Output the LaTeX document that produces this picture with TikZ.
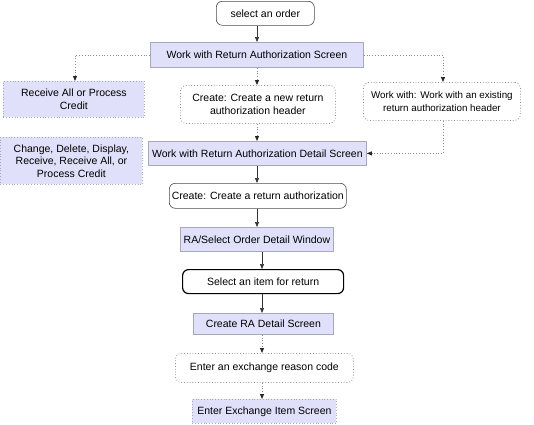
\documentclass[tikz,border=0pt]{standalone}
\usepackage{fontspec}
\setmainfont{Liberation Sans}
\usetikzlibrary{arrows.meta}
\definecolor{lav}{HTML}{E0E0FA}
\definecolor{lavborder}{HTML}{A8A8BC}
\definecolor{dotc}{HTML}{8C8C8C}
\begin{document}
\begin{tikzpicture}[x=1pt,y=-1pt,
  base/.style={font=\fontsize{10.5}{12.5}\selectfont, align=center, inner sep=0pt, anchor=north west},
  screen/.style={base, fill=lav, draw=lavborder, line width=0.8pt},
  screendot/.style={base, fill=lav, draw=lavborder, dotted, line width=0.8pt},
  stepsolid/.style={base, draw=black!70, rounded corners=6pt, line width=0.6pt},
  stepthick/.style={base, draw=black, rounded corners=6pt, line width=1.2pt},
  stepdot/.style={base, draw=dotc, dotted, rounded corners=6pt, line width=0.8pt},
  arr/.style={-{Triangle[length=5pt,width=4pt]}, draw=black!80, line width=0.6pt},
  darr/.style={-{Triangle[length=5pt,width=4pt,color=black!85]}, draw=dotc, dotted, line width=0.8pt}
]
\useasboundingbox (0,0) rectangle (534,424);

\node[stepsolid, minimum width=98pt, minimum height=24pt] (sel) at (216,1) {select an order};
\node[screen, minimum width=213pt, minimum height=25pt] (wra) at (150,42) {Work with Return Authorization Screen};
\node[screendot, minimum width=141pt, minimum height=36pt] (rcv) at (3,81) {Receive All or Process\\Credit};
\node[stepdot, minimum width=155pt, minimum height=38pt] (crn) at (180,85) {Create: Create a new  return\\authorization header};
\node[stepdot, minimum width=157pt, minimum height=38pt, font=\fontsize{9.8}{12.5}\selectfont] (wwe) at (363,82) {Work with: Work with an existing\\return authorization header};
\node[screendot, minimum width=142pt, minimum height=47pt] (chg) at (0,137) {Change, Delete, Display,\\Receive, Receive All, or\\Process Credit};
\node[screen, minimum width=218pt, minimum height=24pt] (wrad) at (148,141) {Work with Return Authorization Detail Screen};
\node[stepsolid, minimum width=177pt, minimum height=25pt] (cra) at (169,183) {Create: Create a return authorization};
\node[screen, minimum width=153pt, minimum height=24pt] (rasel) at (180,227) {RA/Select Order Detail Window};
\node[stepthick, minimum width=161pt, minimum height=24pt] (item) at (182,269) {Select an item for return};
\node[screen, minimum width=140pt, minimum height=21pt] (crad) at (193,313) {Create RA Detail Screen};
\node[stepdot, minimum width=178pt, minimum height=29pt] (rsn) at (175,353) {Enter an exchange reason code};
\node[screendot, minimum width=144pt, minimum height=24pt] (exi) at (192,399) {Enter Exchange Item Screen};

\coordinate (c1) at (257,0);
\draw[arr] (sel.south -| c1) -- (wra.north -| c1);
\draw[darr] (wra.west) -| (rcv.north -| 75,0);
\draw[darr] (wra.south -| c1) -- (crn.north -| c1);
\draw[darr] (wra.east) -| (wwe.north -| 443,0);
\draw[darr] (crn.south -| c1) -- (wrad.north -| c1);
\draw[darr] (wwe.south -| 443,0) |- (wrad.east);
\draw[arr] (wrad.south -| c1) -- (cra.north -| c1);
\draw[arr] (cra.south -| c1) -- (rasel.north -| c1);
\coordinate (c2) at (262,0);
\draw[arr] (rasel.south -| c2) -- (item.north -| c2);
\draw[arr] (item.south -| c2) -- (crad.north -| c2);
\draw[darr] (crad.south -| c2) -- (rsn.north -| c2);
\draw[darr] (rsn.south -| c2) -- (exi.north -| c2);
\end{tikzpicture}
\end{document}
